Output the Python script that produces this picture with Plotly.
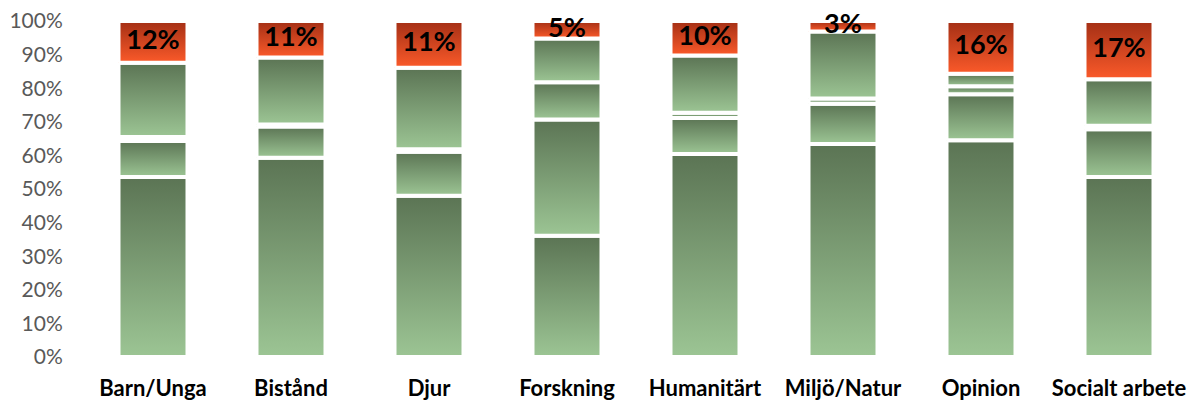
import plotly.graph_objects as go

categories = ["Barn/Unga", "Bistånd", "Djur", "Forskning", "Humanitärt",
              "Miljö/Natur", "Opinion", "Socialt arbete"]
# andelar per kategori, nedifrån och upp (procent)
seg1 = [53.6, 59.3, 48.0, 36.1, 60.4, 63.4, 64.5, 53.6]
seg2 = [10.7, 9.3, 13.1, 34.6, 10.7, 12.0, 13.7, 14.2]
seg3 = [1.2, 0.6, 0.7, 11.1, 1.6, 1.5, 2.4, 1.0]
seg4 = [22.1, 19.9, 24.3, 13.0, 17.0, 20.0, 3.7, 13.9]
top = [12.4, 10.9, 13.9, 5.2, 10.3, 3.1, 15.7, 17.3]
top_labels = ["12%", "11%", "11%", "5%", "10%", "3%", "16%", "17%"]

GREEN = [[0, "#9cc594"], [1, "#5b7454"]]
RED = [[0, "#fb5a2a"], [1, "#a32f15"]]
HALF = 0.25

fig = go.Figure()

for i, cat in enumerate(categories):
    base = 0
    for series, scale in [(seg1, GREEN), (seg2, GREEN), (seg3, GREEN),
                          (seg4, GREEN), (top, RED)]:
        v = series[i]
        y0, y1 = base, base + v
        fig.add_trace(go.Scatter(
            x=[i - HALF, i + HALF, i + HALF, i - HALF, i - HALF],
            y=[y0, y0, y1, y1, y0],
            mode="lines", fill="toself",
            line=dict(color="white", width=4),
            fillgradient=dict(type="vertical", colorscale=scale),
            hoverinfo="skip", showlegend=False
        ))
        base = y1

# etiketter mitt i det översta segmentet
fig.add_trace(go.Scatter(
    x=list(range(len(categories))),
    y=[100 - t / 2 for t in top],
    mode="text", text=top_labels, cliponaxis=False,
    textfont=dict(family="Lato", size=27, color="black", weight="bold"),
    hoverinfo="skip", showlegend=False
))

# sidan har 8 px marginal i body, därför 1188x393
fig.update_layout(
    width=1188, height=393,
    margin=dict(l=76, r=8, t=13, b=44),
    paper_bgcolor="white", plot_bgcolor="white",
    xaxis=dict(
        range=[-0.5, len(categories) - 0.5], automargin=False,
        tickvals=list(range(len(categories))), ticktext=categories,
        showgrid=False, zeroline=False, showline=False,
        ticks="outside", ticklen=12, tickcolor="rgba(0,0,0,0)",
        ticklabeloverflow="allow",
        tickfont=dict(family="Lato", size=22, color="black", weight="bold"),
    ),
    yaxis=dict(
        range=[0, 100], dtick=10, ticksuffix="%", automargin=False,
        showgrid=False, zeroline=False, showline=False,
        ticks="outside", ticklen=16, tickcolor="rgba(0,0,0,0)",
        ticklabeloverflow="allow",
        tickfont=dict(family="Lato", size=21, color="#595959"),
    ),
)

fig.write_html("out.html")
